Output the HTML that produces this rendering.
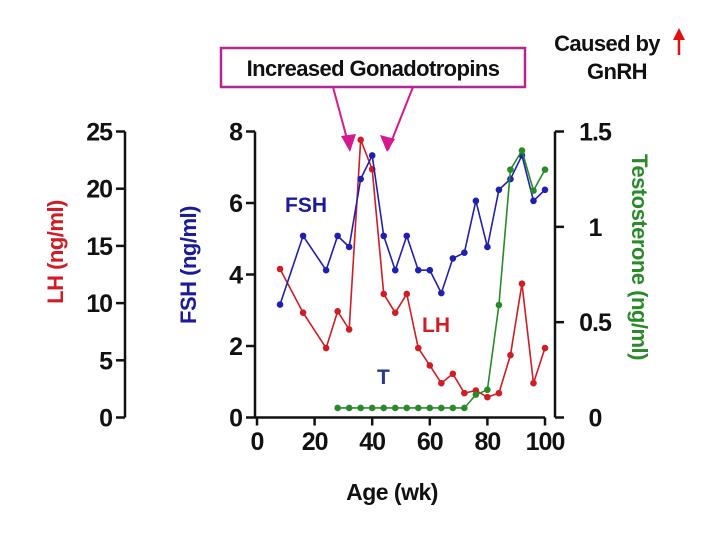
<!DOCTYPE html>
<html><head><meta charset="utf-8"><style>
body{margin:0;background:#fff;}
svg{display:block;font-family:"Liberation Sans",Arial,sans-serif;font-weight:bold;}
</style></head><body>
<svg id="chart" width="720" height="540" viewBox="0 0 720 540" xmlns="http://www.w3.org/2000/svg">
<g id="axes"></g><g id="series"></g>
<g>
<rect x="221" y="48" width="304" height="39" fill="#fff" stroke="#b5268f" stroke-width="2.5"/>
<text x="373" y="76" font-size="22" letter-spacing="-0.6" text-anchor="middle" fill="#111">Increased Gonadotropins</text>
<line x1="333" y1="87" x2="350" y2="150" stroke="#d6198f" stroke-width="2"/>
<polygon points="350,152 341,136 356,134" fill="#d6198f"/>
<line x1="413" y1="87" x2="388" y2="150" stroke="#d6198f" stroke-width="2"/>
<polygon points="387,152 380,135 395,139" fill="#d6198f"/>
<text x="607" y="51" font-size="22" letter-spacing="-0.6" text-anchor="middle" fill="#111">Caused by</text>
<text x="617" y="79" font-size="22" letter-spacing="-0.6" text-anchor="middle" fill="#111">GnRH</text>
<line x1="679" y1="55" x2="679" y2="36" stroke="#e01010" stroke-width="2.5"/>
<polygon points="679,28 673,40 685,40" fill="#e01010"/>
</g>
<text x="285" y="212" font-size="21" fill="#1a1a9a">FSH</text>
<text x="422" y="332" font-size="21" fill="#d01c24">LH</text>
<text x="377" y="384" font-size="21" fill="#2a3a8a">T</text>
<text x="392" y="500" font-size="23" letter-spacing="-0.5" text-anchor="middle" fill="#111">Age (wk)</text>
<text transform="translate(63,252) rotate(-90)" font-size="22" letter-spacing="-0.5" text-anchor="middle" fill="#d01c24">LH (ng/ml)</text>
<text transform="translate(196,265) rotate(-90)" font-size="22" letter-spacing="-0.5" text-anchor="middle" fill="#1a1a9a">FSH (ng/ml)</text>
<text transform="translate(632,257) rotate(90)" font-size="22" letter-spacing="-0.5" text-anchor="middle" fill="#2a8a2a">Testosterone (ng/ml)</text>
</svg>
<script>
const ages = [8,16,24,28,32,36,40,44,48,52,56,60,64,68,72,76,80,84,88,92,96,100];
const fshValues = [3.16,5.08,4.12,5.08,4.77,6.67,7.33,5.08,4.12,5.08,4.12,4.12,3.48,4.45,4.61,6.06,4.77,6.37,6.67,7.33,6.06,6.37];
const lhValues = [12.98,9.16,6.07,9.28,7.7,24.27,21.7,10.8,9.16,10.8,6.07,4.55,3.0,3.82,2.13,2.36,1.78,2.13,5.45,11.7,3.0,6.07];
const tAges = [28,32,36,40,44,48,52,56,60,64,68,72,76,80,84,88,92,96,100];
const tValues = [0.05,0.05,0.05,0.05,0.05,0.05,0.05,0.05,0.05,0.05,0.05,0.05,0.12,0.145,0.59,1.30,1.40,1.19,1.30];
const xTicks = [0,20,40,60,80,100];
const lhTicks = [0,5,10,15,20,25];
const fshTicks = [0,2,4,6,8];
const tTicks = [0,0.5,1,1.5];
const tTickLabels = ["0","0.5","1","1.5"];

const NS="http://www.w3.org/2000/svg";
const Y0=417.5, Y1=131.5;
const xS=v=>257+v*2.88;
const lhS=v=>Y0-(Y0-Y1)*v/25;
const fshS=v=>Y0-(Y0-Y1)*v/8;
const tS=v=>Y0-(Y0-Y1)*v/1.5;
function mk(tag,attrs,parent,txt){const e=document.createElementNS(NS,tag);for(const k in attrs)e.setAttribute(k,attrs[k]);if(txt!==undefined)e.textContent=txt;parent.appendChild(e);return e;}
const ax=document.getElementById('axes');
const K={stroke:"#111","stroke-width":2.5};
const TF={"font-size":25,"letter-spacing":-1,fill:"#111"};
let l=mk('line',Object.assign({x1:125,y1:Y1,x2:125,y2:Y0},K),ax);


lhTicks.forEach(v=>{mk('line',Object.assign({x1:116,y1:lhS(v),x2:125,y2:lhS(v)},K),ax);
 const t=mk('text',Object.assign({x:112,y:lhS(v)+9,"text-anchor":"end"},TF),ax,String(v));
 
 });
l=mk('line',Object.assign({x1:255,y1:Y1,x2:255,y2:Y0},K),ax);


fshTicks.forEach(v=>{mk('line',Object.assign({x1:246,y1:fshS(v),x2:255,y2:fshS(v)},K),ax);
 const t=mk('text',Object.assign({x:242,y:fshS(v)+9,"text-anchor":"end"},TF),ax,String(v));
 
 });
l=mk('line',Object.assign({x1:255,y1:Y0,x2:xS(100),y2:Y0},K),ax);


xTicks.forEach(v=>{mk('line',Object.assign({x1:xS(v),y1:Y0,x2:xS(v),y2:Y0+8},K),ax);
 const t=mk('text',Object.assign({x:xS(v),y:450,"text-anchor":"middle"},TF),ax,String(v));
 
 });
l=mk('line',Object.assign({x1:555,y1:Y1,x2:555,y2:Y0},K),ax);


tTicks.forEach((v,i)=>{mk('line',Object.assign({x1:555,y1:tS(v),x2:564,y2:tS(v)},K),ax);
 const t=mk('text',Object.assign({x:595,y:tS(v)+9,"text-anchor":"middle"},TF),ax,tTickLabels[i]);
 
 });
const sg=document.getElementById('series');
function series(xs,ys,yS,color,name){
 const g=mk('g',{},sg);
 
 
 const p=mk('polyline',{points:xs.map((x,i)=>xS(x)+','+yS(ys[i])).join(' '),fill:'none',stroke:color,'stroke-width':1.6},g);
 
 
 xs.forEach((x,i)=>{const c=mk('circle',{cx:xS(x),cy:yS(ys[i]),r:3.3,fill:color},g);
  
  });
}
series(ages,lhValues,lhS,'#d01c24','lh');
series(ages,fshValues,fshS,'#2020b0','fsh');
series(tAges,tValues,tS,'#2a8a2a','t');
</script>
</body></html>
